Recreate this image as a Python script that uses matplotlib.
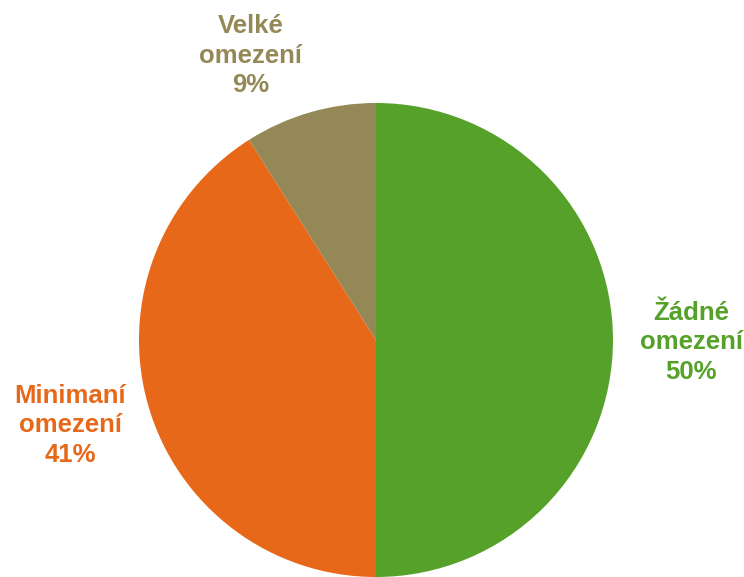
import matplotlib
matplotlib.use("Agg")
import matplotlib.pyplot as plt

# Data
labels = ["Žádné\nomezení", "Minimaní\nomezení", "Velké\nomezení"]
shares = [50, 41, 9]
colors = ["#56a129", "#e8681a", "#938856"]
text_colors = ["#56a129", "#e8681a", "#938856"]

# Label centres (in units of the pie radius)
label_pos = [(1.33, -0.01), (-1.29, -0.36), (-0.53, 1.20)]

fig = plt.figure(figsize=(7.44, 5.77), dpi=100)
ax = fig.add_axes([0.1868, 0.0, 0.6371, 0.8215])

ax.pie(shares, colors=colors, startangle=90, counterclock=False, radius=1,
       wedgeprops=dict(linewidth=0))

for lab, val, pos, c in zip(labels, shares, label_pos, text_colors):
    ax.text(pos[0], pos[1], f"{lab}\n{val}%", ha="center", va="center",
            fontsize=18.5, fontweight="bold", color=c, linespacing=1.3,
            family="Liberation Sans")

ax.set_xlim(-1, 1)
ax.set_ylim(-1, 1)
ax.set_aspect("equal")
ax.axis("off")

fig.savefig("out.png", dpi=100)
